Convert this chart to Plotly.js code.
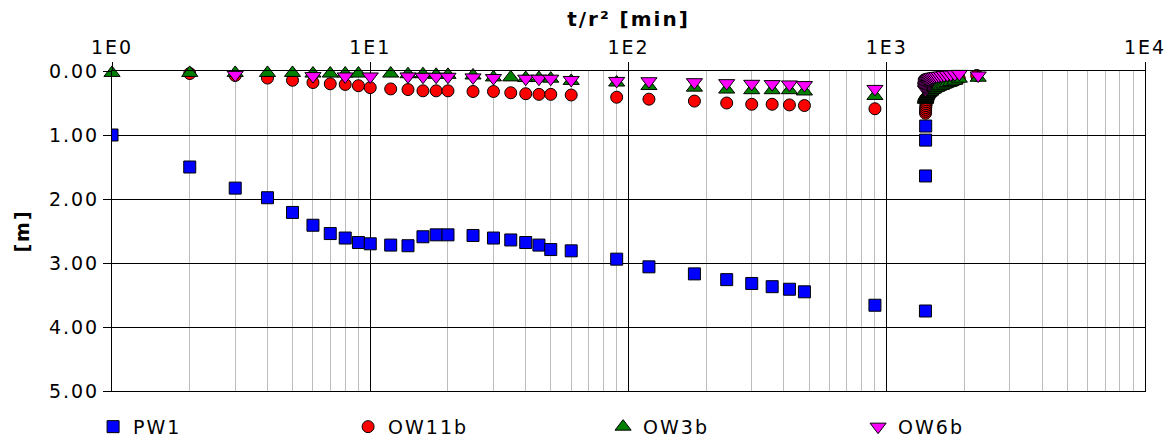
<!DOCTYPE html>
<html><head><meta charset="utf-8">
<script src="https://cdn.plot.ly/plotly-3.0.1.min.js"></script>
<style>
html,body{margin:0;padding:0;background:#fff;}
#chart{width:1168px;height:440px;}
.main-svg text{letter-spacing:2px;}
</style></head><body><div id="chart"></div>
<script>
// ---- data (t/r² in min, drawdown in m) ----
const seriesNames = ['PW1', 'OW11b', 'OW3b', 'OW6b'];
const xTickVals = [1, 10, 100, 1000, 10000];
const xTickLabels = ['1E0', '1E1', '1E2', '1E3', '1E4'];
const yTickVals = [0, 1, 2, 3, 4, 5];
const yTickLabels = ['0.00', '1.00', '2.00', '3.00', '4.00', '5.00'];

const pw1Time = [1,2,3,4,5,6,7,8,9,10,12,14,16,18,20,25,30,35,40,45,50,60,90,120,180,240,300,360,420,480,900,1412,1413,1414,1415];
const pw1Drawdown = [1.00,1.50,1.83,1.98,2.21,2.41,2.54,2.61,2.68,2.70,2.72,2.73,2.59,2.56,2.56,2.57,2.61,2.64,2.68,2.72,2.79,2.81,2.94,3.06,3.17,3.26,3.32,3.37,3.41,3.45,3.66,3.75,1.64,1.08,0.86];

const ow11bTime = [2,3,4,5,6,7,8,9,10,12,14,16,18,20,25,30,35,40,45,50,60,90,120,180,240,300,360,420,480,900,
  1413,1414,1415,1416,1418,1420,1423,1427,1432,1438,1446,1455,1466,1480,1496,1515,1537,1562,1592,1627,1668,1715,1770,1835,1910,2230];
const ow11bDrawdown = [0.04,0.07,0.11,0.145,0.18,0.20,0.21,0.23,0.26,0.28,0.29,0.31,0.31,0.31,0.32,0.32,0.34,0.355,0.365,0.365,0.375,0.41,0.44,0.47,0.50,0.52,0.52,0.53,0.54,0.59,
  0.66,0.63,0.60,0.57,0.54,0.51,0.48,0.45,0.42,0.40,0.38,0.36,0.34,0.32,0.30,0.29,0.27,0.26,0.24,0.23,0.21,0.19,0.17,0.15,0.12,0.07];

const ow3bTime = [1,2,3,4,5,6,7,8,9,12,14,16,18,20,25,30,35,40,45,50,60,90,120,180,240,300,360,420,480,900,
  1413,1414,1415,1416,1418,1420,1423,1427,1432,1438,1446,1455,1466,1480,1496,1515,1537,1562,1592,1627,1668,1715,1770,1835,1910,2260];
const ow3bDrawdown = [0.03,0.03,0.03,0.03,0.03,0.04,0.04,0.04,0.04,0.04,0.05,0.05,0.06,0.06,0.07,0.10,0.10,0.11,0.11,0.12,0.155,0.18,0.235,0.26,0.29,0.30,0.30,0.30,0.32,0.39,
  0.45,0.44,0.43,0.42,0.41,0.40,0.39,0.38,0.37,0.36,0.35,0.34,0.33,0.32,0.30,0.29,0.27,0.26,0.24,0.23,0.21,0.19,0.17,0.15,0.12,0.105];

const ow6bTime = [3,6,8,10,14,16,18,20,25,30,40,45,50,60,90,120,180,240,300,360,420,480,900,
  1413,1414,1415,1416,1418,1420,1423,1427,1432,1438,1446,1455,1466,1480,1496,1515,1537,1562,1592,1627,1668,1715,1770,1835,1910,2260];
const ow6bDrawdown = [0.06,0.08,0.085,0.085,0.085,0.09,0.09,0.09,0.10,0.11,0.12,0.12,0.12,0.14,0.155,0.16,0.175,0.19,0.20,0.205,0.21,0.22,0.28,
  0.29,0.27,0.25,0.23,0.21,0.19,0.17,0.16,0.15,0.14,0.13,0.12,0.11,0.10,0.095,0.09,0.085,0.08,0.075,0.07,0.065,0.06,0.055,0.05,0.045,0.07];

// ---- chart ----
const FONT = 'DejaVu Sans, Verdana, sans-serif';
function trace(name, x, y, symbol, color, size, clip) {
  return {
    type: 'scatter', mode: 'markers', name: name, x: x, y: y,
    cliponaxis: clip,
    marker: { symbol: symbol, color: color, size: size, line: { color: '#000', width: 1 } }
  };
}
const data = [
  trace(seriesNames[0], pw1Time, pw1Drawdown, 'square', '#0000ff', 12, true),
  trace(seriesNames[1], ow11bTime, ow11bDrawdown, 'circle', '#ff0000', 12, false),
  trace(seriesNames[2], ow3bTime, ow3bDrawdown, 'triangle-up', '#008000', 14, false),
  trace(seriesNames[3], ow6bTime, ow6bDrawdown, 'triangle-down', '#ff00ff', 14, false)
];
const layout = {
  width: 1168, height: 440,
  margin: { l: 112, r: 23, t: 71, b: 49, autoexpand: false },
  paper_bgcolor: '#fff', plot_bgcolor: '#fff',
  font: { family: FONT, size: 19, color: '#000' },
  showlegend: true,
  legend: {
    orientation: 'h', xref: 'container', x: 0.0797, xanchor: 'left',
    yref: 'container', y: 0.03, yanchor: 'middle',
    entrywidth: 210, entrywidthmode: 'pixels',
    font: { family: FONT, size: 19, color: '#000' },
    itemsizing: 'trace', bgcolor: 'rgba(0,0,0,0)'
  },
  xaxis: {
    type: 'log', range: [0, 4], side: 'top',
    tickmode: 'array', tickvals: xTickVals, ticktext: xTickLabels,
    ticks: 'outside', ticklen: 8, tickcolor: '#000',
    showline: true, linecolor: '#000', linewidth: 1, mirror: true,
    showgrid: true, gridcolor: '#000', gridwidth: 1, zeroline: false,
    minor: { dtick: 'D1', showgrid: true, gridcolor: '#bdbdbd', gridwidth: 1, ticks: '' },
    title: { text: 't/r² [min]', font: { family: FONT, size: 20, weight: 'bold' }, standoff: 4 }
  },
  yaxis: {
    range: [5, 0],
    tickmode: 'array', tickvals: yTickVals, ticktext: yTickLabels,
    ticks: 'outside', ticklen: 8, tickcolor: '#000',
    showline: true, linecolor: '#000', linewidth: 1, mirror: true,
    showgrid: true, gridcolor: '#000', gridwidth: 1, zeroline: false,
    title: { text: '[m]', font: { family: FONT, size: 19, weight: 'bold' }, standoff: 22 }
  }
};
Plotly.newPlot('chart', data, layout, { displayModeBar: false, staticPlot: true });
</script></body></html>
